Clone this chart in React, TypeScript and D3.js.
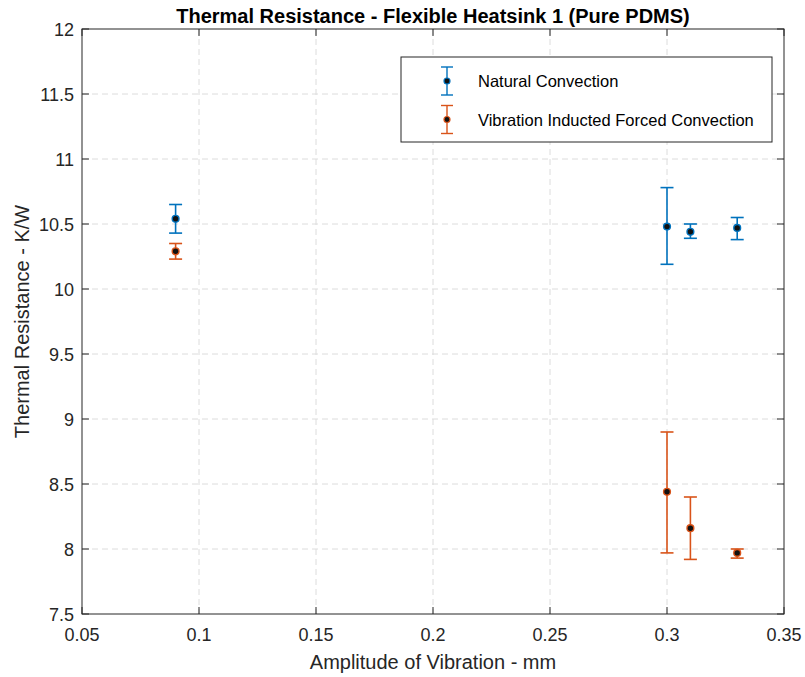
import React from "react";
import * as d3 from "d3";

const amplitudes = [0.09, 0.3, 0.31, 0.33];
const naturalMean = [10.54, 10.48, 10.44, 10.47];
const naturalLow = [10.43, 10.19, 10.39, 10.38];
const naturalHigh = [10.65, 10.78, 10.5, 10.55];
const forcedMean = [10.29, 8.44, 8.16, 7.97];
const forcedLow = [10.23, 7.97, 7.92, 7.93];
const forcedHigh = [10.35, 8.9, 8.4, 8.0];
const xTicks = [0.05, 0.1, 0.15, 0.2, 0.25, 0.3, 0.35];
const yTicks = [7.5, 8, 8.5, 9, 9.5, 10, 10.5, 11, 11.5, 12];
const seriesNames = ["Natural Convection", "Vibration Inducted Forced Convection"];
const seriesColors = ["#0072BD", "#D95319"];

const W = 805;
const H = 677;
const L = 82, R = 784, T = 29, B = 614;
const FONT = "'Liberation Sans', Arial, Helvetica, sans-serif";

export default function App() {
  const x = d3.scaleLinear().domain([0.05, 0.35]).range([L, R]);
  const y = d3.scaleLinear().domain([7.5, 12]).range([B, T]);
  const series = [
    { mean: naturalMean, lo: naturalLow, hi: naturalHigh },
    { mean: forcedMean, lo: forcedLow, hi: forcedHigh },
  ];
  const cap = 6.5;
  const axisColor = "#262626";
  const drawErr = (cx: number, ylo: number, yhi: number, ym: number, color: string, key: string) => (
    <g key={key}>
      <line x1={cx} x2={cx} y1={ylo} y2={yhi} stroke={color} strokeWidth={1.6} />
      <line x1={cx - cap} x2={cx + cap} y1={ylo} y2={ylo} stroke={color} strokeWidth={1.6} />
      <line x1={cx - cap} x2={cx + cap} y1={yhi} y2={yhi} stroke={color} strokeWidth={1.6} />
      <circle cx={cx} cy={ym} r={3.4} fill="#111" stroke={color} strokeWidth={1.4} />
    </g>
  );
  return (
    <svg width={W} height={H} style={{ position: "absolute", left: 0, top: 0, background: "#fff" }} fontFamily={FONT}>
      <rect x={0} y={0} width={W} height={H} fill="#fff" />
      {/* grid */}
      {xTicks.slice(1, -1).map((t) => (
        <line key={"gx" + t} x1={x(t)} x2={x(t)} y1={T} y2={B} stroke="#dcdcdc" strokeWidth={1} strokeDasharray="6,4" />
      ))}
      {yTicks.slice(1, -1).map((t) => (
        <line key={"gy" + t} x1={L} x2={R} y1={y(t)} y2={y(t)} stroke="#dcdcdc" strokeWidth={1} strokeDasharray="6,4" />
      ))}
      {/* box */}
      <rect x={L} y={T} width={R - L} height={B - T} fill="none" stroke={axisColor} strokeWidth={1} />
      {/* ticks */}
      {xTicks.map((t) => (
        <g key={"tx" + t}>
          <line x1={x(t)} x2={x(t)} y1={B} y2={B - 7} stroke={axisColor} />
          <line x1={x(t)} x2={x(t)} y1={T} y2={T + 7} stroke={axisColor} />
          <text x={x(t)} y={B + 27} textAnchor="middle" fontSize={18} fill="#262626">{String(t)}</text>
        </g>
      ))}
      {yTicks.map((t) => (
        <g key={"ty" + t}>
          <line x1={L} x2={L + 7} y1={y(t)} y2={y(t)} stroke={axisColor} />
          <line x1={R} x2={R - 7} y1={y(t)} y2={y(t)} stroke={axisColor} />
          <text x={L - 8} y={y(t) + 7} textAnchor="end" fontSize={18} fill="#262626">{String(t)}</text>
        </g>
      ))}
      {/* data */}
      {series.map((s, si) =>
        amplitudes.map((a, i) =>
          drawErr(x(a), y(s.lo[i]), y(s.hi[i]), y(s.mean[i]), seriesColors[si], `p${si}-${i}`)
        )
      )}
      {/* title & labels */}
      <text x={(L + R) / 2} y={23} textAnchor="middle" fontSize={20} fontWeight="bold" fill="#000">
        Thermal Resistance - Flexible Heatsink 1 (Pure PDMS)
      </text>
      <text x={(L + R) / 2} y={669} textAnchor="middle" fontSize={20} fill="#262626">Amplitude of Vibration - mm</text>
      <text transform={`translate(29,${(T + B) / 2}) rotate(-90)`} textAnchor="middle" fontSize={20} fill="#262626">
        Thermal Resistance - K/W
      </text>
      {/* legend */}
      <rect x={401} y={57} width={371} height={85} fill="#fff" stroke={axisColor} strokeWidth={1} />
      {seriesNames.map((n, i) => {
        const cy = 81 + i * 38.5;
        return (
          <g key={"lg" + i}>
            <line x1={447} x2={447} y1={cy - 14} y2={cy + 14} stroke={seriesColors[i]} strokeWidth={1.4} />
            <line x1={441} x2={453} y1={cy - 14} y2={cy - 14} stroke={seriesColors[i]} strokeWidth={1.4} />
            <line x1={441} x2={453} y1={cy + 14} y2={cy + 14} stroke={seriesColors[i]} strokeWidth={1.4} />
            <circle cx={447} cy={cy} r={3} fill="#111" stroke={seriesColors[i]} strokeWidth={1.2} />
            <text x={478} y={cy + 6} fontSize={16.5} fill="#000">{n}</text>
          </g>
        );
      })}
    </svg>
  );
}
